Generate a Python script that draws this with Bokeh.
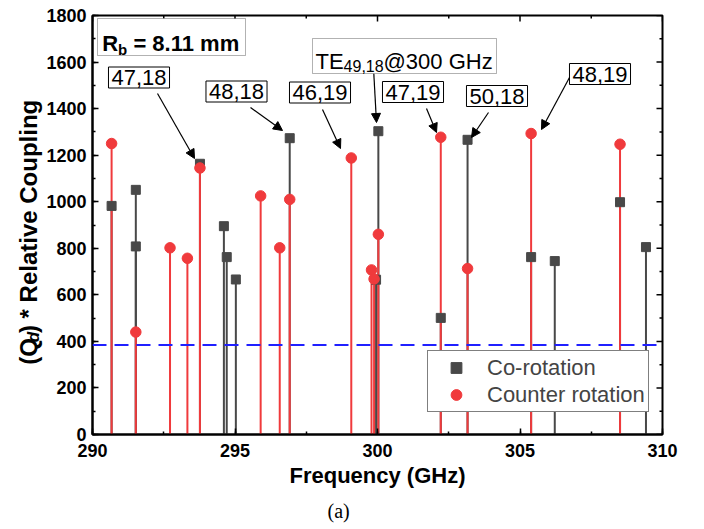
import math
from bokeh.plotting import figure
from bokeh.layouts import row
from bokeh.models import (Range1d, SingleIntervalTicker, Label, Arrow, Title,
                          NormalHead, Span, BoxAnnotation, Legend, LegendItem)
from bokeh.embed import file_html
from bokeh.resources import INLINE

# ---------------- data ----------------
co_freq = [290.67, 291.52, 291.52, 293.77, 294.61, 294.71, 295.03, 296.92,
           299.95, 300.03, 302.22, 303.16, 305.39, 306.22, 308.51, 309.42]
co_val = [982, 1051, 808, 1163, 895, 762, 666, 1273,
          665, 1303, 501, 1266, 762, 745, 998, 805]

counter_freq = [290.67, 291.52, 292.72, 293.33, 293.77, 295.90, 296.57, 296.92,
                299.08, 299.79, 299.88, 300.03, 302.22, 303.16, 305.39, 308.51]
counter_val = [1250, 440, 802, 757, 1145, 1025, 802, 1010,
               1188, 707, 668, 860, 1277, 713, 1293, 1247]

threshold = 385
series_names = ["Co-rotation", "Counter rotation"]
mode_labels = ["47,18", "48,18", "46,19", "47,19", "50,18", "48,19"]
x_tick_interval = 5
y_tick_interval = 200

# ---------------- layout ----------------
W, H = 704, 529
LW = 43                      # width of the strip holding the y-axis title
FL, FR, FT, FB = 92, 662, 15, 434
X0, X1, Y0, Y1 = 290, 310, 0, 1800
FONT = "Liberation Sans"
GREY = "#484848"
RED = "#f03a3c"


def px2x(px):
    return X0 + (px - FL) * (X1 - X0) / (FR - FL)


def px2y(py):
    return Y0 + (FB - py) * (Y1 - Y0) / (FB - FT)


DX = (X1 - X0) / (FR - FL)   # data per pixel
DY = (Y1 - Y0) / (FB - FT)

p = figure(width=W - LW, height=H, output_backend="svg", toolbar_location=None,
           x_range=Range1d(X0, X1), y_range=Range1d(Y0, Y1),
           min_border_left=FL - LW, min_border_right=W - FR,
           min_border_top=FT, min_border_bottom=H - FB)
p.grid.visible = False
p.outline_line_color = "black"
p.outline_line_width = 2
p.background_fill_color = "white"
p.border_fill_color = "white"

p.xaxis.ticker = SingleIntervalTicker(interval=x_tick_interval, num_minor_ticks=2)
p.yaxis.ticker = SingleIntervalTicker(interval=y_tick_interval, num_minor_ticks=2)

for ax in (p.xaxis[0], p.yaxis[0]):
    ax.axis_line_width = 2
    ax.axis_line_color = "black"
    ax.major_tick_in = 6
    ax.major_tick_out = 0
    ax.minor_tick_in = 3
    ax.minor_tick_out = 0
    ax.major_tick_line_width = 1.5
    ax.minor_tick_line_width = 1.5
    ax.major_tick_line_color = "black"
    ax.minor_tick_line_color = "black"
    ax.major_label_text_font = FONT
    ax.major_label_text_font_style = "bold"
    ax.major_label_text_color = "black"
    ax.major_label_text_font_size = "18px"

p.xaxis.major_label_standoff = 9
p.yaxis.major_label_standoff = 6
p.xaxis.axis_label = "Frequency (GHz)"
p.xaxis.axis_label_text_font = FONT
p.xaxis.axis_label_text_font_style = "bold"
p.xaxis.axis_label_text_font_size = "22px"
p.xaxis.axis_label_text_color = "black"
p.xaxis.axis_label_standoff = 3

# mirrored inward ticks on top and right edges
xmaj = list(range(X0, X1 + 1, x_tick_interval))
xmin = [t + x_tick_interval / 2 for t in xmaj[:-1]]
ymaj = list(range(Y0, Y1 + 1, y_tick_interval))
ymin = [t + y_tick_interval / 2 for t in ymaj[:-1]]
p.segment(x0=xmaj, y0=[Y1] * len(xmaj), x1=xmaj, y1=[Y1 - 6 * DY] * len(xmaj),
          line_color="black", line_width=1.5)
p.segment(x0=xmin, y0=[Y1] * len(xmin), x1=xmin, y1=[Y1 - 3 * DY] * len(xmin),
          line_color="black", line_width=1.5)
p.segment(x0=[X1] * len(ymaj), y0=ymaj, x1=[X1 - 6 * DX] * len(ymaj), y1=ymaj,
          line_color="black", line_width=1.5)
p.segment(x0=[X1] * len(ymin), y0=ymin, x1=[X1 - 3 * DX] * len(ymin), y1=ymin,
          line_color="black", line_width=1.5)

# ---------------- stems + markers ----------------
p.segment(x0=co_freq, y0=[0] * len(co_freq), x1=co_freq, y1=co_val,
          line_color=GREY, line_width=2)
p.segment(x0=counter_freq, y0=[0] * len(counter_freq), x1=counter_freq, y1=counter_val,
          line_color=RED, line_width=2)
sq = p.scatter(co_freq, co_val, marker="square", size=9, color=GREY)
ci = p.scatter(counter_freq, counter_val, marker="circle", size=10.5, color=RED)

p.add_layout(Span(location=threshold, dimension="width", line_color="#2020ff",
                  line_width=2, line_dash="14 8"))

legend = Legend(items=[LegendItem(label=series_names[0], renderers=[sq]),
                       LegendItem(label=series_names[1], renderers=[ci])],
                location=(335, 22), label_text_font=FONT, label_text_font_size="22px",
                border_line_color="black", border_line_width=1, padding=3, spacing=0,
                label_height=27, glyph_height=27, glyph_width=50, label_standoff=6,
                margin=0, background_fill_color="white", background_fill_alpha=1)
p.add_layout(legend)

# ---------------- annotations ----------------
box_centers = [(138.5, 77), (236, 91), (319.5, 92), (412.5, 91.5), (496.5, 95.5), (599.5, 73.5)]
for txt, (cx, cy) in zip(mode_labels, box_centers):
    p.add_layout(Label(x=px2x(cx), y=px2y(cy), text=txt, text_align="center",
                       text_baseline="middle", text_font=FONT, text_font_size="22px",
                       text_color="black", border_line_color="black", border_line_width=1,
                       background_fill_color="white", padding=3))

arrows_px = [((157, 93), (194, 158)), ((250, 107), (282, 130)), ((322, 109), (340, 148)),
             ((373.3, 73), (376, 122)), ((426, 108), (436, 132)), ((488, 112), (471, 137)),
             ((569, 77), (541, 129))]
for (sx, sy), (ex, ey) in arrows_px:
    p.add_layout(Arrow(end=NormalHead(size=9, fill_color="black", line_color="black", line_width=1),
                       x_start=px2x(sx), y_start=px2y(sy), x_end=px2x(ex), y_end=px2y(ey),
                       line_color="black", line_width=1.2))

# TE box
p.add_layout(BoxAnnotation(left=px2x(312), right=px2x(496), top=px2y(38), bottom=px2y(73),
                           fill_color="white", fill_alpha=1, line_color="black", line_width=1))
p.add_layout(Label(x=px2x(315), y=px2y(60.7), text="TE", text_font=FONT, text_font_size="22px",
                   text_baseline="alphabetic", text_align="left", text_color="black"))
p.add_layout(Label(x=px2x(343.1), y=px2y(65.5), text="49,18", text_font=FONT, text_font_size="16px",
                   text_baseline="alphabetic", text_align="left", text_color="black"))
p.add_layout(Label(x=px2x(383), y=px2y(60.7), text="@300 GHz", text_font=FONT, text_font_size="22px",
                   text_baseline="alphabetic", text_align="left", text_color="black"))

# R_b box
p.add_layout(BoxAnnotation(left=px2x(97), right=px2x(245), top=px2y(18), bottom=px2y(55),
                           fill_color="white", fill_alpha=1, line_color="black", line_width=1))
p.add_layout(Label(x=px2x(101.7), y=px2y(43.3), text="R", text_font=FONT, text_font_size="22px",
                   text_font_style="bold", text_baseline="alphabetic", text_color="black"))
p.add_layout(Label(x=px2x(117.6), y=px2y(49), text="b", text_font=FONT, text_font_size="15px",
                   text_font_style="bold", text_baseline="alphabetic", text_color="black"))
p.add_layout(Label(x=px2x(132.9), y=px2y(43.3), text="= 8.11 mm", text_font=FONT,
                   text_font_size="22px", text_font_style="bold", text_baseline="alphabetic",
                   text_color="black"))

# caption below the x-axis title
p.add_layout(Title(text="(a)", align="left", offset=327 - FL, text_font="Liberation Serif",
                   text_font_size="20px", text_font_style="normal", text_color="black",
                   standoff=15), "below")

# ---------------- strip with the y-axis title ----------------
lab = figure(width=LW, height=H, output_backend="svg", toolbar_location=None,
             x_range=Range1d(0, LW), y_range=Range1d(0, H),
             x_axis_type=None, y_axis_type=None,
             min_border_left=0, min_border_right=0, min_border_top=0, min_border_bottom=0)
lab.grid.visible = False
lab.outline_line_color = None
lab.background_fill_color = "white"
lab.border_fill_color = "white"

rot = math.pi / 2
SHIFT = 61   # rotated labels are drawn this many pixels higher than their anchor
lab.add_layout(Label(x=28, y=H - (380 + SHIFT), text="(Q", angle=rot, text_font=FONT,
                     text_font_size="24px", text_font_style="bold", text_baseline="middle",
                     text_align="left", text_color="black"))
lab.add_layout(Label(x=33, y=H - (351.5 + SHIFT), text="d", angle=rot, text_font=FONT,
                     text_font_size="17px", text_font_style="bold italic",
                     text_baseline="middle", text_align="left", text_color="black"))
lab.add_layout(Label(x=28, y=H - (340.0 + SHIFT), text=") * Relative Coupling", angle=rot,
                     text_font=FONT, text_font_size="24px", text_font_style="bold",
                     text_baseline="middle", text_align="left", text_color="black"))

layout = row(lab, p, spacing=0)
open("out.html", "w").write(file_html(layout, INLINE))
